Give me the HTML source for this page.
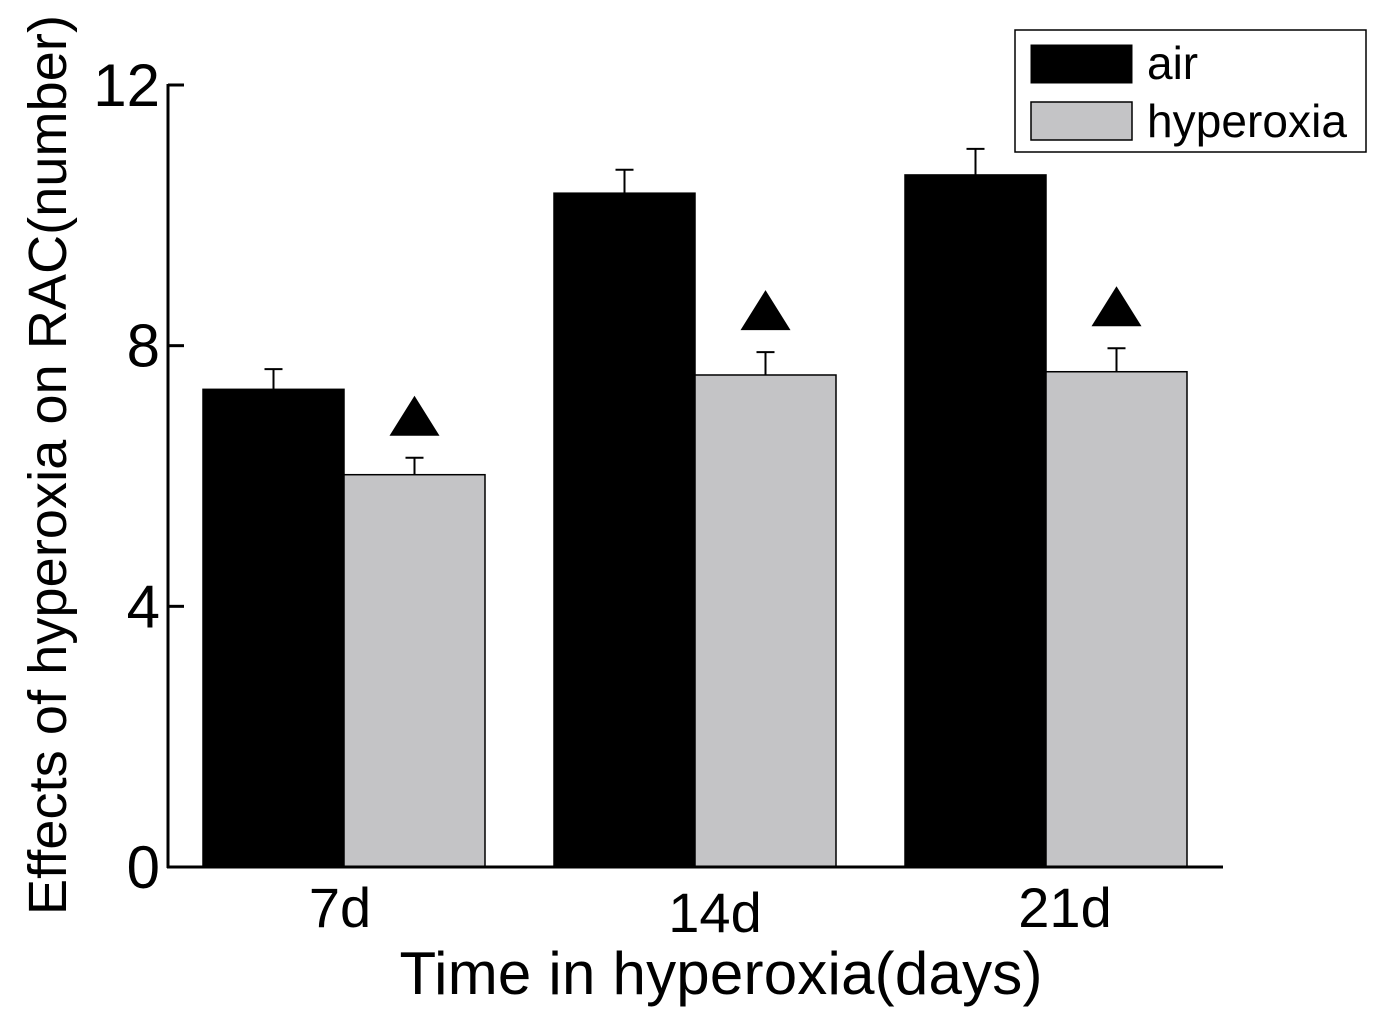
<!DOCTYPE html>
<html><head><meta charset="utf-8"><style>
html,body{margin:0;padding:0;background:#fff;}
svg{display:block;font-family:"Liberation Sans",Arial,sans-serif;}
</style></head><body>
<svg id="chart" width="1392" height="1014" viewBox="0 0 1392 1014">
<g id="marks"></g>
<g id="axes"></g>
<text x="721" y="994" font-size="60" text-anchor="middle" textLength="643">Time in hyperoxia(days)</text>
<text transform="translate(66,465) rotate(-90)" font-size="54" text-anchor="middle" textLength="900">Effects of hyperoxia on RAC(number)</text>
<g>
<rect x="1015" y="30" width="351" height="122" fill="#fff" stroke="#000" stroke-width="1.5"/>
<rect x="1031" y="45" width="101" height="38" fill="#000" stroke="#000"/>
<text x="1147" y="79" font-size="46">air</text>
<rect x="1031" y="102" width="101" height="38" fill="#c4c4c6" stroke="#000" stroke-width="1.5"/>
<text x="1147" y="137" font-size="46" textLength="200">hyperoxia</text>
</g>
</svg>
<script>
const categories = ["7d", "14d", "21d"];
const airValues = [7.33, 10.34, 10.62];
const airErrors = [0.31, 0.36, 0.40];
const hypValues = [6.02, 7.55, 7.60];
const hypErrors = [0.26, 0.35, 0.36];
const significant = [true, true, true];
const yTicks = [0, 4, 8, 12];

const NS = "http://www.w3.org/2000/svg";
const y0 = 867, yTop = 85, yMax = 12;
const yScale = v => y0 - (v / yMax) * (y0 - yTop);
const groupStart = [203, 554, 905];
const barW = 141;
const xOf = (i, s) => groupStart[i] + s * barW;
const labelX = [340, 715, 1065];
const labelY = [927, 932, 927];

function mk(tag, attrs, parent) {
  const e = document.createElementNS(NS, tag);
  for (const k in attrs) e.setAttribute(k, attrs[k]);
  parent.appendChild(e);
  return e;
}
const marks = document.getElementById('marks');
const axes = document.getElementById('axes');

categories.forEach((c, i) => {
  [[airValues, airErrors, '#000', 'air'], [hypValues, hypErrors, '#c4c4c6', 'hyperoxia']].forEach((s, si) => {
    const x = xOf(i, si), top = yScale(s[0][i]);
    const r = mk('rect', {x: x, y: top, width: barW, height: y0 - top, fill: s[2], stroke: '#000', 'stroke-width': 1.5}, marks);
    
    
    const cx = x + barW / 2, et = yScale(s[0][i] + s[1][i]);
    const g = mk('g', {stroke: '#000', 'stroke-width': 2}, marks);
    
    
    mk('line', {x1: cx, x2: cx, y1: top, y2: et}, g);
    mk('line', {x1: cx - 9, x2: cx + 9, y1: et, y2: et}, g);
    if (si === 1 && significant[i]) {
      const ty = et - 22;
      const t = mk('polygon', {points: `${cx},${ty - 40} ${cx - 25},${ty} ${cx + 25},${ty}`, fill: '#000'}, marks);
      
      
    }
  });
  const lt = mk('text', {x: labelX[i], y: labelY[i], 'font-size': 56, 'text-anchor': 'middle'}, axes);
  lt.textContent = c;
  
  
});

const ya = mk('line', {x1: 168, x2: 168, y1: yTop - 1, y2: y0 + 1, stroke: '#000', 'stroke-width': 3}, axes);


const xa = mk('line', {x1: 167, x2: 1223, y1: y0, y2: y0, stroke: '#000', 'stroke-width': 3}, axes);


yTicks.forEach(v => {
  const y = yScale(v);
  const tk = mk('line', {x1: 168, x2: 184, y1: y, y2: y, stroke: '#000', 'stroke-width': 3}, axes);
  
  
  const t = mk('text', {x: 160, y: y + 21, 'font-size': 60, 'text-anchor': 'end'}, axes);
  t.textContent = v;
  
  
});
</script>
</body></html>
